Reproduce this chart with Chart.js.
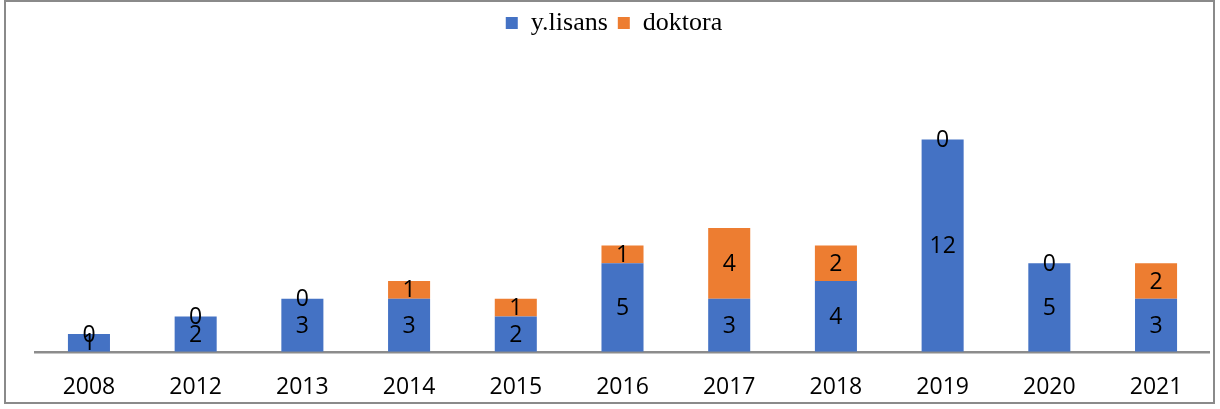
<!DOCTYPE html>
<html>
<head>
<meta charset="utf-8">
<script src="https://cdn.jsdelivr.net/npm/chart.js@4"></script>
<style>
  html, body { margin: 0; padding: 0; background: #fff; }
  #wrap { position: relative; width: 1220px; height: 409px; }
  #frame { position: absolute; left: 4px; top: 0; width: 1211px; height: 404px;
           border: 2px solid #8a8a8a; box-sizing: border-box; pointer-events: none; }
</style>
</head>
<body>
<div id="wrap">
  <canvas id="chart" width="1220" height="409"></canvas>
  <div id="frame"></div>
</div>
<script>
const years = ['2008', '2012', '2013', '2014', '2015', '2016', '2017', '2018', '2019', '2020', '2021'];
const yLisans = [1, 2, 3, 3, 2, 5, 3, 4, 12, 5, 3];
const doktora = [0, 0, 0, 1, 1, 1, 4, 2, 0, 0, 2];

// value labels in the middle of every segment (zeros land on top of the stack)
const valueLabels = {
    id: 'valueLabels',
    afterDatasetsDraw(chart) {
        const ctx = chart.ctx;
        ctx.save();
        ctx.font = '23px "Open Sans"';
        ctx.fillStyle = '#000';
        ctx.textAlign = 'center';
        ctx.textBaseline = 'middle';
        chart.data.datasets.forEach((ds, i) => {
            chart.getDatasetMeta(i).data.forEach((bar, j) => {
                ctx.fillText(ds.data[j], bar.x, (bar.y + bar.base) / 2 + 1);
            });
        });
        ctx.restore();
    }
};

// extra room under the legend, and nudge it a bit to the left
const legendGap = {
    id: 'legendGap',
    beforeInit(chart) {
        const fit = chart.legend.fit;
        chart.legend.fit = function () {
            fit.bind(chart.legend)();
            this.height += 58;
        };
    },
    afterLayout(chart) {
        chart.legend.left -= 17;
    }
};

new Chart(document.getElementById('chart').getContext('2d'), {
    type: 'bar',
    data: {
        labels: years,
        datasets: [
            { label: 'y.lisans', data: yLisans, backgroundColor: '#4472C4' },
            { label: 'doktora', data: doktora, backgroundColor: '#ED7D31' }
        ]
    },
    options: {
        responsive: false,
        animation: false,
        categoryPercentage: 0.394,
        barPercentage: 1,
        layout: { padding: { left: 35.6, right: 10.6, top: 0, bottom: -6.4 } },
        plugins: {
            legend: {
                position: 'top',
                labels: {
                    boxWidth: 12,
                    boxHeight: 12,
                    padding: 10,
                    color: '#000',
                    font: { family: '"Liberation Serif", "Times New Roman", serif', size: 26 }
                }
            },
            tooltip: { enabled: false }
        },
        scales: {
            x: {
                stacked: true,
                grid: { display: false },
                border: { display: true, color: '#8c8c8c', width: 2.5 },
                ticks: {
                    color: '#000',
                    padding: 14,
                    font: { family: '"Open Sans"', size: 23, lineHeight: 1.2 }
                }
            },
            y: {
                stacked: true,
                display: false,
                min: 0,
                max: 14
            }
        }
    },
    plugins: [valueLabels, legendGap]
});
</script>
</body>
</html>
